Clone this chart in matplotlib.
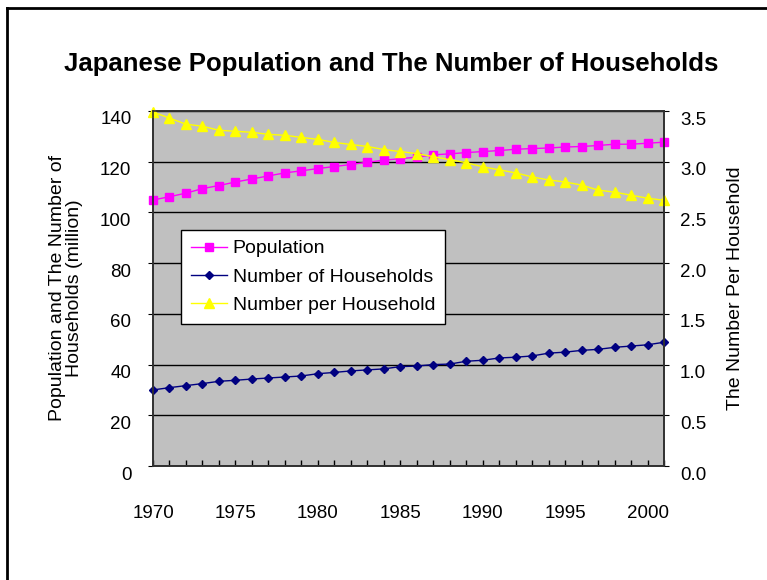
import matplotlib
matplotlib.use('Agg')
import matplotlib.pyplot as plt
import matplotlib.transforms as mtransforms
from matplotlib.lines import Line2D

plt.rcParams['font.family'] = ['Liberation Sans', 'DejaVu Sans']

# data
years = list(range(1970, 2002))
population = [104.9, 106.2, 107.6, 109.4, 110.6, 112.0, 113.2, 114.4, 115.6, 116.4,
              117.3, 118.1, 118.9, 119.8, 120.6, 121.2, 121.8, 122.7, 123.1, 123.6,
              124.0, 124.4, 124.9, 125.2, 125.4, 125.8, 126.0, 126.4, 126.9, 126.9,
              127.3, 127.7]
households = [30.0, 30.9, 31.7, 32.5, 33.4, 33.8, 34.3, 34.7, 35.1, 35.5,
              36.4, 36.9, 37.5, 37.9, 38.3, 39.2, 39.4, 40.0, 40.2, 41.3,
              41.7, 42.6, 42.9, 43.4, 44.5, 44.9, 45.6, 46.0, 46.8, 47.3,
              47.8, 48.8]
per_household = [3.49, 3.43, 3.37, 3.35, 3.31, 3.30, 3.29, 3.27, 3.26, 3.24,
                 3.22, 3.19, 3.17, 3.15, 3.12, 3.10, 3.08, 3.05, 3.02, 2.99,
                 2.95, 2.92, 2.89, 2.85, 2.82, 2.80, 2.77, 2.72, 2.70, 2.67,
                 2.64, 2.62]
left_ticks = [0, 20, 40, 60, 80, 100, 120, 140]
right_ticks = [0.0, 0.5, 1.0, 1.5, 2.0, 2.5, 3.0, 3.5]
year_labels = [1970, 1975, 1980, 1985, 1990, 1995, 2000]

fig = plt.figure(figsize=(7.67, 5.8), dpi=100)
ax = fig.add_axes([153 / 767, 1 - 466 / 580, 511 / 767, 355 / 580])
ax.set_facecolor('#c0c0c0')
ax2 = ax.twinx()

l1, = ax.plot(years, population, color='#ff00ff', marker='s', ms=5.5, lw=1,
              clip_on=False, label='Population')
l2, = ax.plot(years, households, color='#000080', marker='D', ms=4, lw=1,
              clip_on=False, label='Number of Households')
l3, = ax2.plot(years, per_household, color='#ffff00', marker='^', ms=6.5, lw=1,
               clip_on=False, label='Number per Household')

ax.set_xlim(1970, 2001)
ax.set_xticks(year_labels)
ax.set_xticks(years, minor=True)
ax.tick_params(axis='x', which='both', direction='in', length=4.5, width=1,
               pad=28, labelsize=13.5)

ax.set_ylim(0, 140)
ax.set_yticks(left_ticks)
ax.tick_params(axis='y', direction='out', length=3.5, pad=12, labelsize=13.5)
ax.grid(axis='y', color='black', lw=1)
ax.set_axisbelow(True)

ax2.set_ylim(0, 3.5)
ax2.set_yticks(right_ticks)
ax2.set_yticklabels(['%.1f' % v for v in right_ticks])
ax2.tick_params(axis='y', direction='out', length=3.5, pad=8, labelsize=13.5)

for a in (ax, ax2):
    for s in a.spines.values():
        s.set_color('#303030')
        s.set_linewidth(1.2)

# excel puts the value labels a little below their gridlines
offset = mtransforms.ScaledTranslation(0, -0.07, fig.dpi_scale_trans)
for lbl in ax.get_yticklabels() + ax2.get_yticklabels():
    lbl.set_transform(lbl.get_transform() + offset)

leg = ax2.legend([l1, l2, l3], [l1.get_label(), l2.get_label(), l3.get_label()],
                 loc='upper left', bbox_to_anchor=(28 / 511, (466 - 230) / 355),
                 borderaxespad=0, fancybox=False, framealpha=1, edgecolor='black',
                 fontsize=14, handlelength=1.85, handletextpad=0.3,
                 labelspacing=0.55, borderpad=0.5, numpoints=1)
leg.get_frame().set_linewidth(1)

fig.text(391 / 767, 1 - 64 / 580, 'Japanese Population and The Number of Households',
         ha='center', va='center', fontsize=18.5, fontweight='bold')
fig.text(66 / 767, 1 - 288 / 580, 'Population and The Number of\nHouseholds (million)',
         rotation=90, ha='center', va='center', fontsize=14, linespacing=1.0,
         multialignment='center')
fig.text(735 / 767, 1 - 288 / 580, 'The Number Per Household',
         rotation=90, ha='center', va='center', fontsize=14)

# chart-area border (left and top edges visible)
fig.add_artist(Line2D([6.5 / 767, 6.5 / 767], [0, 1 - 8 / 580],
                      transform=fig.transFigure, color='black', lw=2))
fig.add_artist(Line2D([6.5 / 767, 1], [1 - 8 / 580, 1 - 8 / 580],
                      transform=fig.transFigure, color='black', lw=2))

fig.savefig('out.png', dpi=100)
